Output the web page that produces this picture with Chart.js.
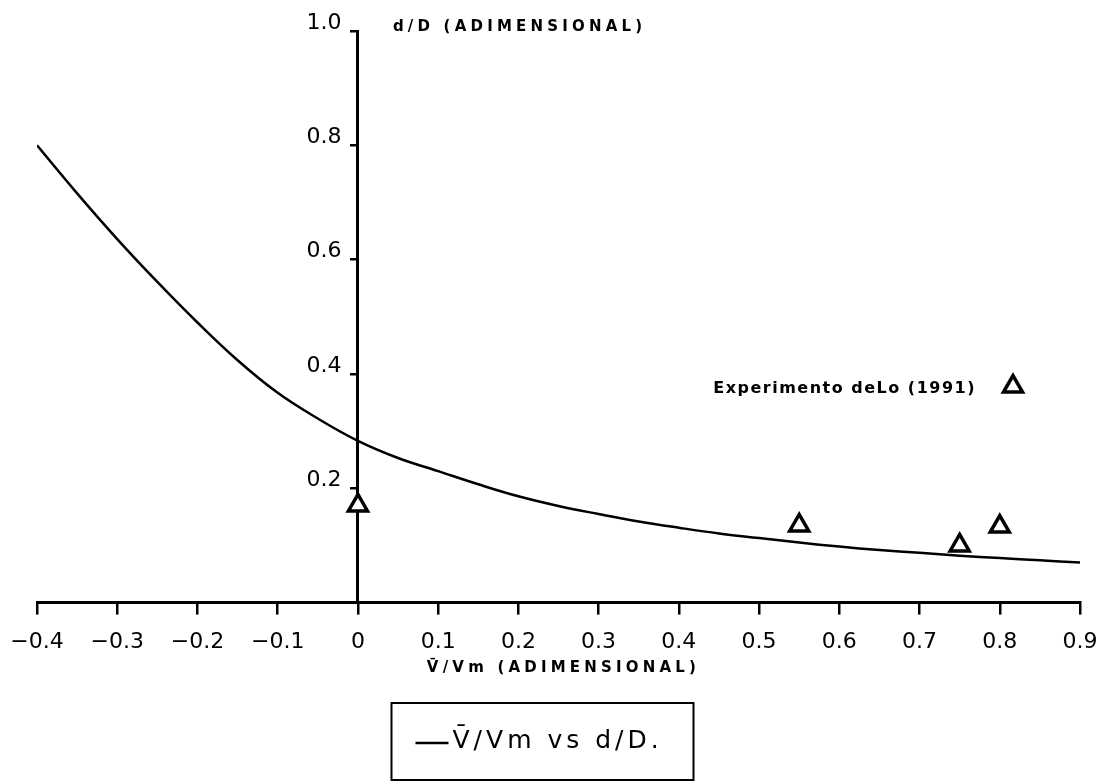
<!DOCTYPE html>
<html>
<head>
<meta charset="utf-8">
<script src="https://cdn.jsdelivr.net/npm/chart.js@4/dist/chart.umd.min.js"></script>
<style>
    html, body { margin: 0; padding: 0; background: #fff; }
    #wrap { width: 1108px; height: 782px; }
</style>
</head>
<body>
<div id="wrap"><canvas id="chart"></canvas></div>
<script>
// curva teorica V/Vm vs d/D
const velocidad = [-0.4, -0.35, -0.3, -0.25, -0.2, -0.15, -0.1, -0.05, 0, 0.05, 0.1, 0.15, 0.2, 0.25, 0.3,
    0.35, 0.4, 0.45, 0.5, 0.55, 0.6, 0.65, 0.7, 0.75, 0.8, 0.85, 0.9]
const profundidad = [0.80, 0.716, 0.636, 0.561, 0.49, 0.424, 0.367, 0.322, 0.283, 0.253, 0.23, 0.207, 0.186, 0.169, 0.155,
    0.142, 0.131, 0.121, 0.113, 0.105, 0.098, 0.092, 0.087, 0.082, 0.078, 0.074, 0.07]

// puntos experimentales (Lo, 1991)
const expVelocidad = [0, 0.55, 0.75, 0.8]
const expProfundidad = [0.17, 0.135, 0.10, 0.133]

const tituloX = 'V\u0304/Vm (ADIMENSIONAL)'
const tituloY = 'd/D (ADIMENSIONAL)'
const leyendaCurva = 'V\u0304/Vm vs d/D.'
const leyendaExp = 'Experimento deLo (1991)'

const fmt = v => {
    const r = Math.round(v * 10) / 10
    if (r === 0) return '0'
    return r < 0 ? '\u2212' + (-r).toFixed(1) : r.toFixed(1)
}

const textos = {
    id: 'textos',
    afterDraw(chart) {
        const { ctx, scales: { x, y } } = chart
        const x0 = x.getPixelForValue(0)
        ctx.save()
        ctx.fillStyle = '#000'
        ctx.strokeStyle = '#000'
        ctx.textBaseline = 'middle'

        // titulos de ejes
        ctx.font = 'bold 15px "DejaVu Sans"'
        ctx.letterSpacing = '4.2px'
        ctx.textAlign = 'left'
        ctx.fillText(tituloY, x0 + 35, y.top - 4)
        ctx.textAlign = 'center'
        ctx.fillText(tituloX, (x.left + x.right) / 2 + 5, x.top + 66)

        // leyenda de los puntos experimentales
        const ds = chart.data.datasets[1]
        const tx = x.right - 67
        const ty = y.getPixelForValue(0.378)
        ctx.font = 'bold 16px "DejaVu Sans"'
        ctx.letterSpacing = '1.5px'
        ctx.textAlign = 'right'
        ctx.fillText(leyendaExp, tx - 37, ty + 2)
        ctx.lineWidth = ds.borderWidth
        ctx.fillStyle = '#fff'
        Chart.helpers.drawPoint(ctx, { pointStyle: ds.pointStyle, radius: ds.pointRadius, borderWidth: ds.borderWidth, rotation: 0 }, tx, ty)

        // leyenda de la curva, recuadrada
        const ds0 = chart.data.datasets[0]
        const bx = (x.left + x.right) / 2 - 167
        const by = 703
        ctx.lineWidth = 2
        ctx.strokeRect(bx, by, 302, 77)
        ctx.lineWidth = ds0.borderWidth
        ctx.beginPath()
        ctx.moveTo(bx + 24, by + 40)
        ctx.lineTo(bx + 57, by + 40)
        ctx.stroke()
        ctx.fillStyle = '#000'
        ctx.font = '25px "DejaVu Sans"'
        ctx.letterSpacing = '4px'
        ctx.textAlign = 'left'
        ctx.fillText(leyendaCurva, bx + 61, by + 38)
        ctx.restore()
    }
}

new Chart(document.getElementById('chart'), {
    type: 'line',
    data: {
        datasets: [
            {
                label: leyendaCurva,
                data: velocidad.map((v, i) => ({ x: v, y: profundidad[i] })),
                borderColor: '#000',
                borderWidth: 2.5,
                pointRadius: 0,
                tension: 0.4,
                fill: false
            },
            {
                label: leyendaExp,
                data: expVelocidad.map((v, i) => ({ x: v, y: expProfundidad[i] })),
                showLine: false,
                pointStyle: 'triangle',
                pointRadius: 11,
                borderWidth: 3.5,
                borderColor: '#000',
                backgroundColor: '#fff'
            }
        ]
    },
    options: {
        responsive: true,
        maintainAspectRatio: false,
        animation: false,
        layout: { padding: { left: 37, right: 28, top: 31, bottom: 113 } },
        plugins: {
            legend: { display: false },
            tooltip: { enabled: false }
        },
        scales: {
            x: {
                type: 'linear',
                min: -0.4,
                max: 0.9,
                // los bordes los fija el padding del layout
                afterFit: scale => {
                    scale.paddingLeft = 0
                    scale.paddingRight = 0
                },
                grid: { drawOnChartArea: false, drawTicks: true, tickLength: 12, color: '#000', lineWidth: 2.5 },
                border: { display: true, color: '#000', width: 3 },
                ticks: {
                    stepSize: 0.1,
                    padding: 14,
                    color: '#000',
                    maxRotation: 0,
                    autoSkip: false,
                    font: { family: 'DejaVu Sans', size: 22 },
                    callback: v => fmt(v)
                }
            },
            y: {
                type: 'linear',
                position: { x: 0 },
                min: 0,
                max: 1.0,
                grid: { drawOnChartArea: false, drawTicks: true, tickLength: 6, color: '#000', lineWidth: 2.5 },
                border: { display: true, color: '#000', width: 3 },
                ticks: {
                    stepSize: 0.2,
                    color: '#000',
                    labelOffset: -8,
                    font: { family: 'DejaVu Sans', size: 22 },
                    // el eje va en x = 0: un espacio separa la etiqueta de la linea
                    callback: v => (Math.abs(v) < 1e-9 ? '' : fmt(v) + '\u2002\u2005')
                }
            }
        }
    },
    plugins: [textos]
})
</script>
</body>
</html>
